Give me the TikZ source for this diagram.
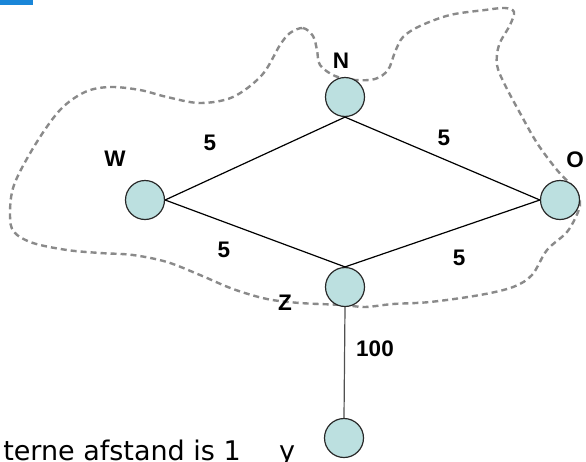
\documentclass[tikz,border=0pt]{standalone}
\usepackage{fontspec}
\setmainfont{Liberation Sans}
\newfontfamily\bottomfont{DejaVu Sans}
\definecolor{nodefill}{RGB}{188,224,224}
\definecolor{nodeline}{RGB}{40,40,40}
\definecolor{regiongray}{RGB}{138,138,138}
\definecolor{barblue}{RGB}{26,134,216}
\definecolor{stemgray}{RGB}{80,80,80}
\begin{document}
\begin{tikzpicture}[x=1pt,y=-1pt,
  vtx/.style={circle,minimum size=39pt,inner sep=0pt,fill=nodefill,draw=nodeline,line width=1.2pt},
  lbl/.style={font=\fontsize{22.5}{22.5}\selectfont\bfseries,inner sep=0pt},
  edge/.style={draw=black,line width=1.2pt},
  region/.style={draw=regiongray,line width=2.4pt,dash pattern=on 6pt off 4pt}]
\useasboundingbox (0,0) rectangle (586,461);
\clip (0,0) rectangle (586,461);
\fill[barblue] (0,0) rectangle (33,5);
% dashed region
\draw[region] plot[smooth cycle,tension=0.55] coordinates {
(290,33) (303,28) (313,36) (317,50) (320,65) (335,76) (355,80) (375,79) (388,70) (395,52) (403,37) (420,26) (450,15) (485,10) (505,8) (514,12) (510,25) (499,45) (497,65) (505,85) (520,113) (537,143) (557,170) (573,187) (580,200) (578,212) (567,232) (547,250) (532,275) (513,287) (480,295) (430,302) (393,304) (365,307) (343,305) (300,303) (267,299) (233,289) (200,275) (167,262) (133,255) (100,253) (67,250) (33,243) (14,232) (10,215) (14,185) (35,145) (60,110) (85,92) (110,87) (140,90) (167,97) (200,103) (233,97) (262,75) (280,45)};
% nodes
\node[vtx] (N) at (345,97) {};
\node[vtx] (W) at (145,200) {};
\node[vtx] (O) at (560,200) {};
\node[vtx] (Z) at (345,287) {};
\node[vtx] (B) at (344,438) {};
% edges
\draw[edge] (N.south) -- (W.east);
\draw[edge] (N.south) -- (O.west);
\draw[edge] (W.east) -- (Z.north);
\draw[edge] (O.west) -- (Z.north);
\draw[edge,draw=stemgray] (Z.south) -- (B.north);
% labels
\node[lbl] (lW) at (115,159) {W};
\node[lbl] (lN) at (341,61) {N};
\node[lbl] (lO) at (575,160) {O};
\node[lbl] (lZ) at (285,303) {Z};
\node[lbl] (eNW) at (210,143) {5};
\node[lbl] (eNO) at (444,138) {5};
\node[lbl] (eWZ) at (224,250) {5};
\node[lbl] (eOZ) at (459,258) {5};
\node[lbl] (eZB) at (375,349) {100};
% bottom text
\node[font=\bottomfont\fontsize{27}{27}\selectfont,inner sep=0pt,anchor=base east] (txt) at (241,460) {terne afstand is 1};
\node[font=\bottomfont\fontsize{27}{27}\selectfont,inner sep=0pt,anchor=base west] (txty) at (279,460) {y};
\end{tikzpicture}
\end{document}
